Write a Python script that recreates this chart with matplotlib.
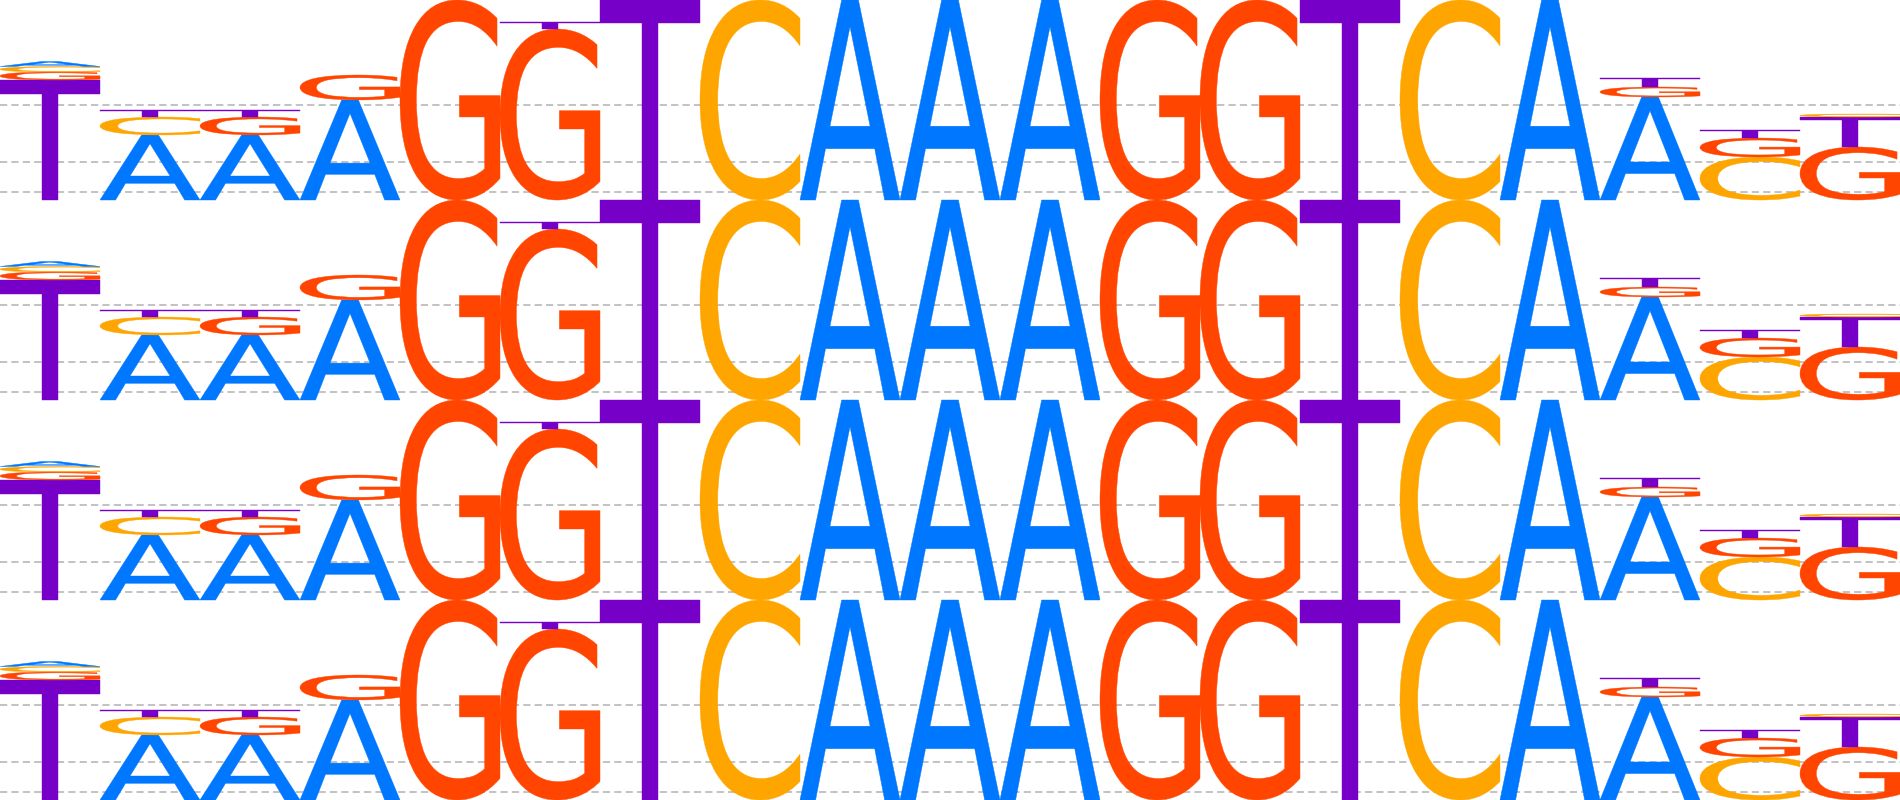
import numpy as np
import matplotlib
matplotlib.use('Agg')
import matplotlib.pyplot as plt
from matplotlib.textpath import TextPath
from matplotlib.patches import PathPatch
from matplotlib.font_manager import FontProperties
from matplotlib.transforms import Affine2D

# letter heights (bits) per position, same motif shown in every row
bases = ['A', 'C', 'G', 'T']
height_A = [0.05, 0.65, 0.65, 1.00, 0, 0, 0, 0, 2.0, 2.0, 2.0, 0, 0, 0, 0, 2.0, 1.03, 0, 0]
height_C = [0.055, 0.18, 0, 0, 0, 0, 0, 2.0, 0, 0, 0, 0, 0, 0, 2.0, 0, 0, 0.43, 0.03]
height_G = [0.08, 0, 0.18, 0.25, 2.0, 1.71, 0, 0, 0, 0, 0, 2.0, 2.0, 0, 0, 0, 0.10, 0.19, 0.53]
height_T = [1.20, 0.07, 0.07, 0, 0, 0.07, 2.0, 0, 0, 0, 0, 0, 0, 2.0, 0, 0, 0.09, 0.08, 0.30]
grid_levels = [0.083, 0.377, 0.95]
n_rows = 4

colors = {'A': '#0077ff', 'C': '#ffa500', 'G': '#ff4500', 'T': '#7700c8'}
fp = FontProperties(family='DejaVu Sans')


def letter(ax, ch, x, y, w, h):
    tp = TextPath((0, 0), ch, size=1, prop=fp)
    bb = tp.get_extents()
    tr = Affine2D().translate(-bb.x0, -bb.y0).scale(w / bb.width, h / bb.height).translate(x, y)
    patch = PathPatch(tr.transform_path(tp), facecolor=colors[ch], edgecolor=colors[ch],
                      lw=0.3, clip_on=False, zorder=3)
    ax.add_patch(patch)


heights = np.array([height_A, height_C, height_G, height_T]).T
n_pos = len(heights)

fig = plt.figure(figsize=(19, 8), dpi=100)
for r in range(n_rows):
    ax = fig.add_axes([0, 1 - (r + 1) / n_rows, 1, 1 / n_rows])
    ax.set_xlim(0, n_pos)
    ax.set_ylim(0, 2)
    ax.axis('off')
    for g in grid_levels:
        ax.axhline(g, color='#bdbdbd', lw=1.3, linestyle=(0, (4, 2.3)), zorder=1)
    for i in range(n_pos):
        order = np.argsort(-heights[i], kind='stable')
        y = 0
        for k in order:
            h = heights[i][k]
            if h <= 0:
                continue
            letter(ax, bases[k], i, y, 1, h)
            y += h

fig.savefig('out.png', dpi=100)
